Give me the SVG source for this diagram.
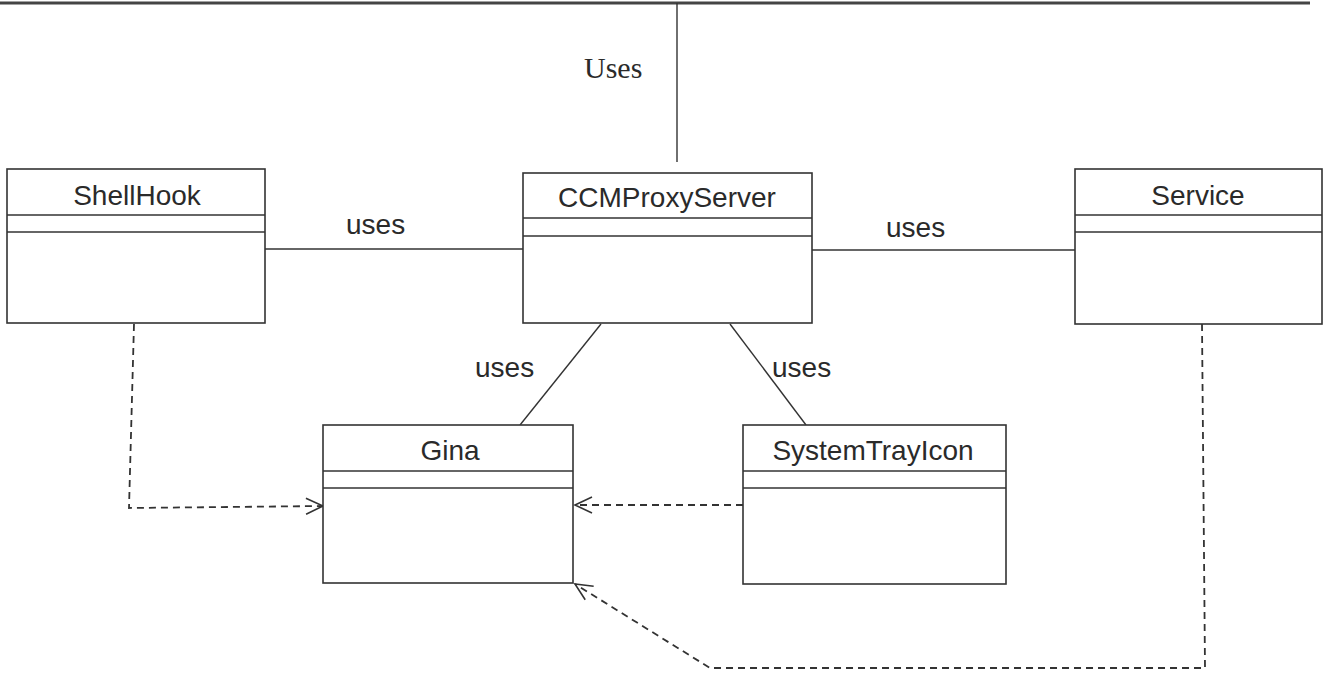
<svg xmlns="http://www.w3.org/2000/svg" width="1324" height="674" viewBox="0 0 1324 674">
<style>
.box{fill:#fff;stroke:#333;stroke-width:1.6}
.sep{stroke:#333;stroke-width:1.6}
.name{font-family:"Liberation Sans",Arial,sans-serif;font-size:28px;fill:#2a2a2a;text-anchor:middle}
.lbl{font-family:"Liberation Sans",Arial,sans-serif;font-size:28px;fill:#2a2a2a}
.ser{font-family:"Liberation Serif","Times New Roman",serif;font-size:30px;fill:#2a2a2a}
.solid{fill:none;stroke:#333;stroke-width:1.4}
.dash{fill:none;stroke:#333;stroke-width:1.8;stroke-dasharray:7,5}
</style>
<defs>
<marker id="open" viewBox="0 0 20 20" refX="18" refY="10" markerWidth="20" markerHeight="20" markerUnits="userSpaceOnUse" orient="auto">
<path d="M1,2 L18,10 L1,18" fill="none" stroke="#333" stroke-width="1.6"/>
</marker>
</defs>
<rect width="1324" height="674" fill="#fff"/>
<g id="connectors">
<line x1="0" y1="3" x2="1310" y2="3" stroke="#444" stroke-width="3"/>
<line class="solid" x1="677" y1="3" x2="677" y2="162"/>
<line class="solid" x1="265" y1="249" x2="523" y2="249"/>
<line class="solid" x1="812" y1="250" x2="1075" y2="250"/>
<line class="solid" x1="601" y1="324" x2="520" y2="425"/>
<line class="solid" x1="730" y1="324" x2="806" y2="425"/>
<path class="dash" d="M134,324 L129,508 L323,506" marker-end="url(#open)"/>
<path class="dash" d="M743,505 L575,505" marker-end="url(#open)"/>
<path class="dash" d="M1202,324 L1205,668 L710,668 L575,584" marker-end="url(#open)"/>
<text class="ser" x="584" y="78">Uses</text>
<text class="lbl" x="346" y="234">uses</text>
<text class="lbl" x="886" y="237">uses</text>
<text class="lbl" x="475" y="377">uses</text>
<text class="lbl" x="772" y="377">uses</text>
</g>
<g id="ShellHook">
<rect class="box" x="7" y="169" width="258" height="154"/>
<line class="sep" x1="7" y1="215" x2="265" y2="215"/>
<line class="sep" x1="7" y1="232" x2="265" y2="232"/>
<text class="name" x="137" y="205">ShellHook</text>
</g>
<g id="CCMProxyServer">
<rect class="box" x="523" y="173" width="289" height="150"/>
<line class="sep" x1="523" y1="218" x2="812" y2="218"/>
<line class="sep" x1="523" y1="236" x2="812" y2="236"/>
<text class="name" x="667" y="207">CCMProxyServer</text>
</g>
<g id="Service">
<rect class="box" x="1075" y="169" width="247" height="155"/>
<line class="sep" x1="1075" y1="215" x2="1322" y2="215"/>
<line class="sep" x1="1075" y1="232" x2="1322" y2="232"/>
<text class="name" x="1198" y="205">Service</text>
</g>
<g id="Gina">
<rect class="box" x="323" y="425" width="250" height="158"/>
<line class="sep" x1="323" y1="471" x2="573" y2="471"/>
<line class="sep" x1="323" y1="488" x2="573" y2="488"/>
<text class="name" x="450" y="460">Gina</text>
</g>
<g id="SystemTrayIcon">
<rect class="box" x="743" y="425" width="263" height="159"/>
<line class="sep" x1="743" y1="471" x2="1006" y2="471"/>
<line class="sep" x1="743" y1="488" x2="1006" y2="488"/>
<text class="name" x="873" y="460">SystemTrayIcon</text>
</g>
</svg>
